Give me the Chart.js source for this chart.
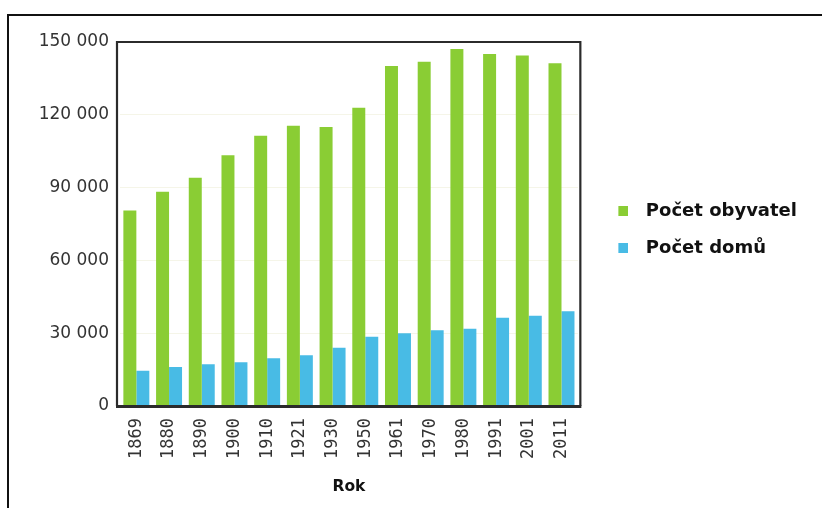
<!DOCTYPE html>
<html>
<head>
<meta charset="utf-8">
<script src="https://cdn.jsdelivr.net/npm/chart.js@4/dist/chart.umd.min.js"></script>
<style>
  html, body { margin: 0; padding: 0; background: #ffffff; }
  #wrap { width: 822px; height: 508px; position: relative; }
</style>
</head>
<body>
<div id="wrap"><canvas id="c" width="822" height="508"></canvas></div>
<script>
const years = ['1869','1880','1890','1900','1910','1921','1930','1950','1961','1970','1980','1991','2001','2011'];
const obyvatel = [80600, 88300, 94100, 103300, 111400, 115500, 115000, 122900, 140100, 141900, 147100, 145100, 144400, 141200];
const domu = [14550, 16070, 17180, 18000, 19650, 20880, 24040, 28560, 29950, 31180, 31860, 36400, 37200, 39000];
const seriesNames = ['Počet obyvatel', 'Počet domů'];
const seriesColors = ['#8acd34', '#48bbe5'];
const xTitle = 'Rok';
const yMax = 150000;
const yStep = 30000;

function swatch(color) {
  const c = document.createElement('canvas');
  c.width = 23; c.height = 10;
  const g = c.getContext('2d');
  g.fillStyle = color;
  g.fillRect(13, 0, 10, 10);
  return c;
}
const swatches = seriesColors.map(swatch);

function fmt(v) {
  return String(v).replace(/\B(?=(\d{3})+(?!\d))/g, ' ');
}

const framePlugin = {
  id: 'frame',
  beforeDraw(chart) {
    const ctx = chart.ctx;
    ctx.save();
    ctx.strokeStyle = '#111';
    ctx.lineWidth = 2;
    ctx.beginPath();
    ctx.moveTo(8, 508);
    ctx.lineTo(8, 15);
    ctx.lineTo(822, 15);
    ctx.stroke();
    ctx.restore();
  },
  afterDatasetsDraw(chart) {
    const a = chart.chartArea;
    const ctx = chart.ctx;
    const l = a.left - 3, r = a.right + 2.5, t = a.top, b = a.bottom;
    ctx.save();
    ctx.strokeStyle = '#2b2b2b';
    ctx.lineWidth = 2.2;
    ctx.beginPath();
    ctx.moveTo(l, b);
    ctx.lineTo(l, t);
    ctx.lineTo(r, t);
    ctx.lineTo(r, b);
    ctx.stroke();
    ctx.lineWidth = 3;
    ctx.beginPath();
    ctx.moveTo(l - 1, b + 0.5);
    ctx.lineTo(r + 1, b + 0.5);
    ctx.stroke();
    ctx.restore();
  }
};

new Chart(document.getElementById('c'), {
  type: 'bar',
  data: {
    labels: years,
    datasets: [
      { label: seriesNames[0], data: obyvatel, backgroundColor: seriesColors[0], borderWidth: 0 },
      { label: seriesNames[1], data: domu, backgroundColor: seriesColors[1], borderWidth: 0 }
    ]
  },
  options: {
    responsive: false,
    animation: false,
    devicePixelRatio: 1,
    categoryPercentage: 0.794,
    barPercentage: 1.0,
    layout: { padding: { left: 0, top: 42, right: 15, bottom: 0 } },
    plugins: {
      tooltip: { enabled: false },
      legend: {
        position: 'right',
        fullSize: false,
        maxWidth: 320,
        title: { display: true, text: '', padding: 0, font: { size: 10, lineHeight: 1.1 } },
        labels: {
          usePointStyle: true,
          pointStyleWidth: 40,
          padding: 19,
          color: '#111',
          font: { family: 'DejaVu Sans', size: 18, weight: 'bold' },
          generateLabels(chart) {
            const items = Chart.defaults.plugins.legend.labels.generateLabels(chart);
            items.forEach((it) => { it.pointStyle = swatches[it.datasetIndex]; });
            return items;
          }
        }
      }
    },
    scales: {
      x: {
        grid: { display: false, drawTicks: false },
        border: { display: false },
        ticks: {
          autoSkip: false,
          minRotation: 90,
          maxRotation: 90,
          padding: 12,
          color: '#333',
          font: { family: 'DejaVu Sans Mono', size: 17 }
        },
        title: {
          display: true,
          text: xTitle,
          color: '#111',
          padding: { top: 0, bottom: 12 },
          font: { family: 'DejaVu Sans', size: 15.5, weight: 'bold' }
        },
        afterFit(s) { s.height = 102; }
      },
      y: {
        min: 0,
        max: yMax,
        grid: { display: true, drawTicks: false, color: 'rgba(225,225,190,0.35)' },
        border: { display: false },
        ticks: {
          stepSize: yStep,
          padding: 11,
          color: '#333',
          font: { family: 'DejaVu Sans', size: 17 },
          callback: (v) => fmt(v)
        },
        afterFit(s) { s.width = 120; }
      }
    }
  },
  plugins: [framePlugin]
});
</script>
</body>
</html>
